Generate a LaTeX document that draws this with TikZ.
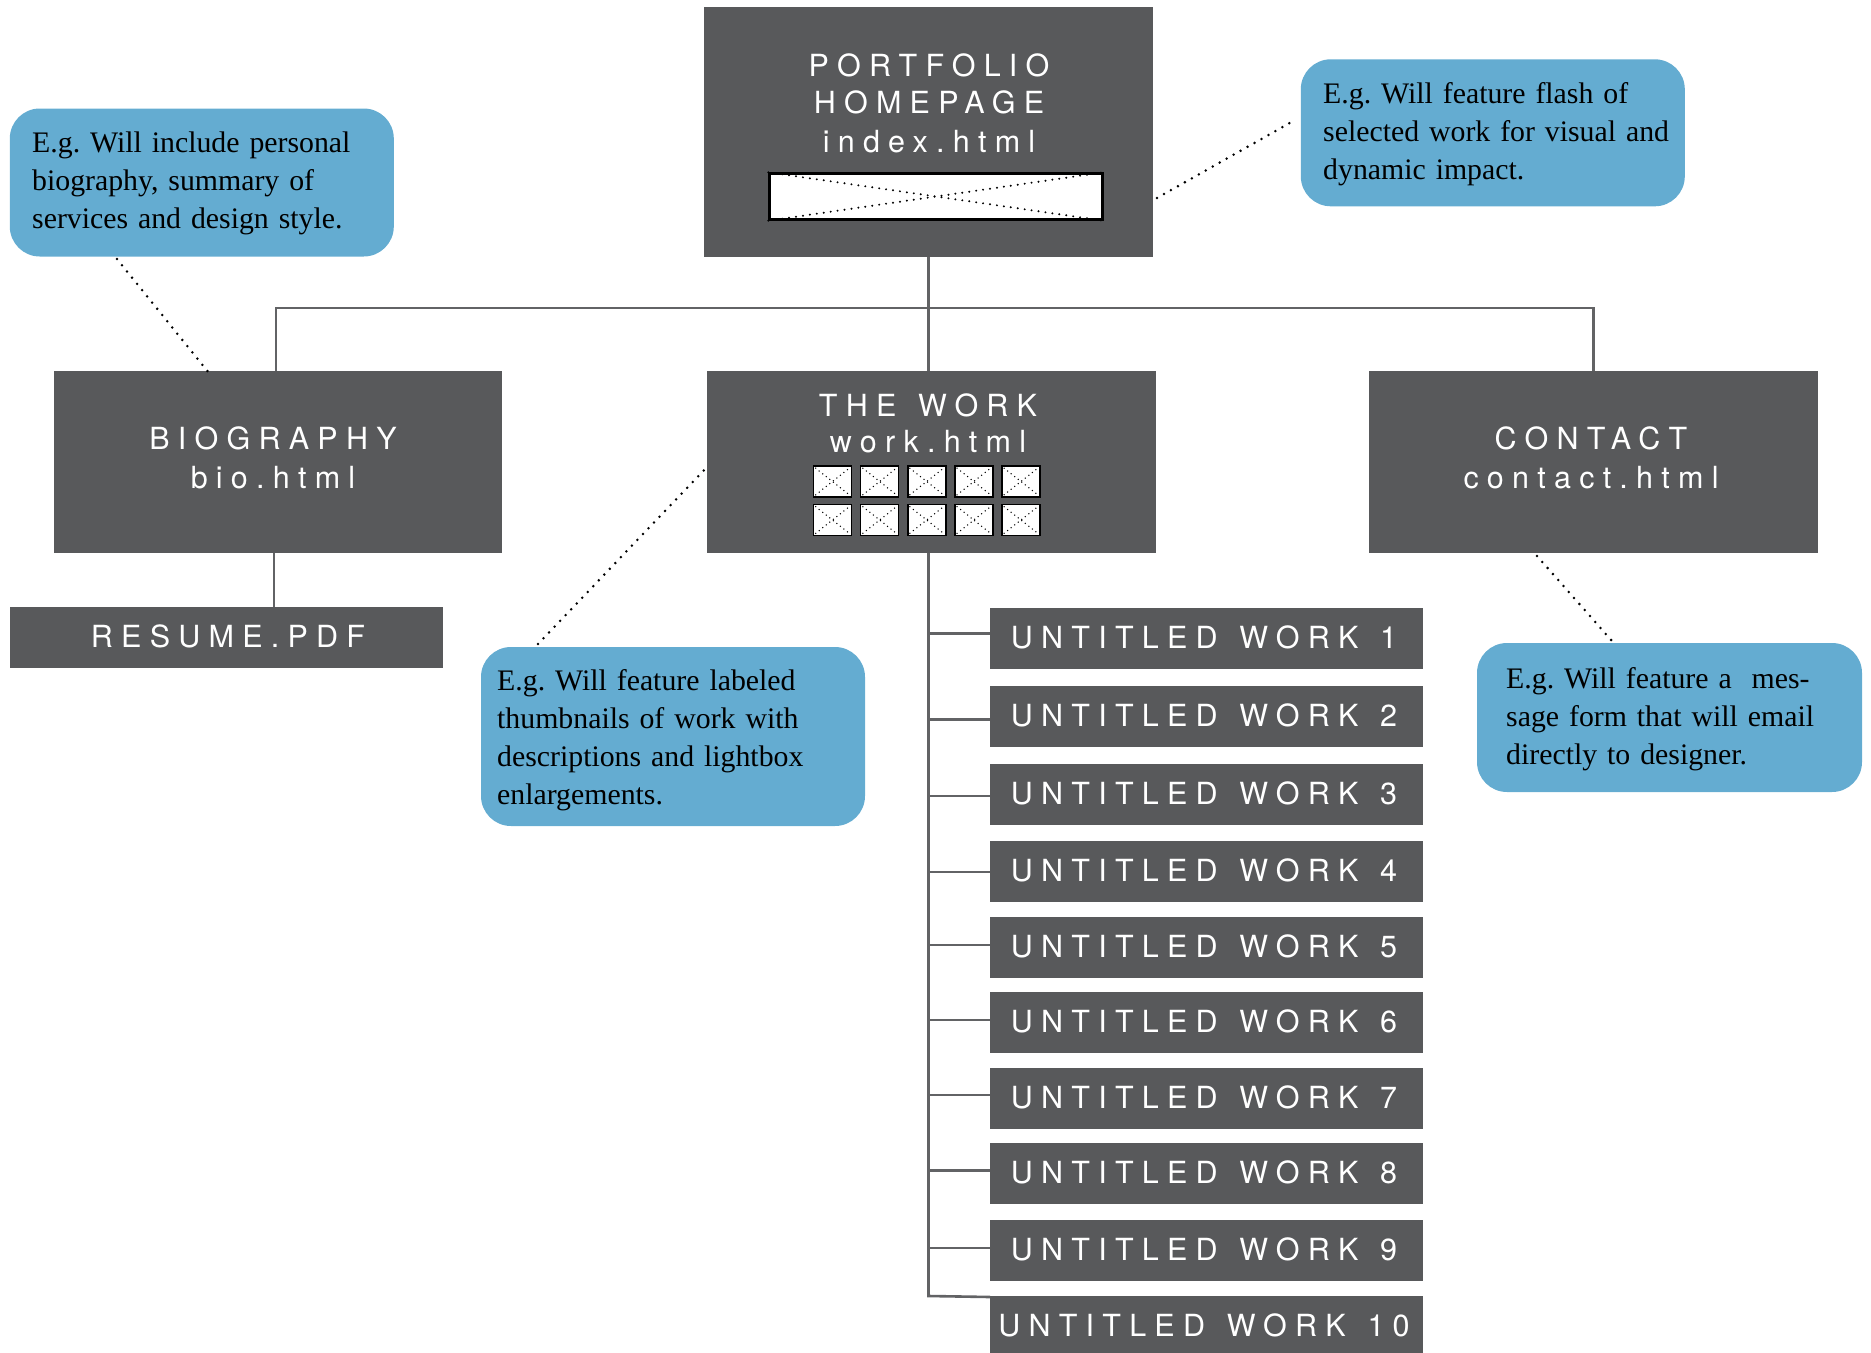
\documentclass[tikz,border=0pt]{standalone}
\usepackage{fontspec}
\setmainfont{Liberation Serif}
\newfontfamily\hvfont[LetterSpace=27,WordSpace=1.3]{TeX Gyre Heros}
\definecolor{boxgray}{HTML}{58595B}
\definecolor{linegray}{HTML}{626365}
\definecolor{noteblue}{HTML}{64ACD1}
\frenchspacing
\begin{document}
\begin{tikzpicture}[x=1pt,y=-1pt,
  pbox/.style={fill=boxgray, draw=none, inner sep=0pt, outer sep=0pt},
  note/.style={fill=noteblue, draw=none, rounded corners=30pt, inner sep=0pt, outer sep=0pt},
  hdr/.style={text=white, font=\hvfont\fontsize{30.5}{36}\selectfont, anchor=base, inner sep=0pt},
  ntext/.style={font=\fontsize{29.8}{38}\selectfont\frenchspacing, anchor=base west, inner sep=0pt, align=left, text width=380pt},
  conn/.style={draw=linegray, line width=2.6pt},
  leader/.style={draw=black, line width=2.8pt, line cap=round, dash pattern=on 0pt off 8pt},
  xdots/.style={draw=black, line width=2.2pt, line cap=round, dash pattern=on 0pt off 7pt},
  tdots/.style={draw=black, line width=1.5pt, line cap=round, dash pattern=on 0pt off 4.5pt},
  thumb/.style={fill=white, draw=black, line width=1.6pt, minimum width=38pt, minimum height=31pt, inner sep=0pt},
]
\useasboundingbox (0,0) rectangle (1871,1352);

% main boxes
\node[pbox, minimum width=449pt, minimum height=250pt] (home) at (928.5,132) {};
\node[pbox, minimum width=448pt, minimum height=182pt] (bio) at (278,462) {};
\node[pbox, minimum width=449pt, minimum height=182pt] (work) at (931.5,462) {};
\node[pbox, minimum width=449pt, minimum height=182pt] (contact) at (1593.5,462) {};
\node[pbox, minimum width=433pt, minimum height=61pt] (resume) at (226.5,637.5) {};

% header texts
\node[hdr] (t1) at (929,76) {PORTFOLIO};
\node[hdr] (t2) at (929,113) {HOMEPAGE};
\node[hdr] (t3) at (929,152) {index.html};
\node[hdr] (t4) at (928,416) {THE WORK};
\node[hdr] (t5) at (928,452) {work.html};
\node[hdr] (t6) at (273,449) {BIOGRAPHY};
\node[hdr] (t7) at (273,488) {bio.html};
\node[hdr] (t8) at (1591,449) {CONTACT};
\node[hdr] (t9) at (1591,488) {contact.html};
\node[hdr] (t10) at (228,647) {RESUME.PDF};

% hero placeholder
\node[fill=white, draw=black, line width=2.4pt, minimum width=333pt, minimum height=46pt, inner sep=0pt] (hero) at (936,196.5) {};
\draw[xdots] (hero.north west) -- (hero.south east);
\draw[xdots] (hero.south west) -- (hero.north east);

% thumbnails
\foreach \c in {0,...,4}{
  \foreach \r in {0,1}{
    \node[thumb] (th\c\r) at (832.5+\c*47.1, 481.5+\r*38.5) {};
    \draw[tdots] ([xshift=3pt,yshift=-3pt]th\c\r.north west) -- ([xshift=-3pt,yshift=3pt]th\c\r.south east);
    \draw[tdots] ([xshift=3pt,yshift=3pt]th\c\r.south west) -- ([xshift=-3pt,yshift=-3pt]th\c\r.north east);
  }
}

% work items
\foreach \i/\t in {1/608,2/686,3/764,4/841,5/917,6/992,7/1068,8/1143,9/1220,10/1296}{
  \node[pbox, minimum width=433pt, minimum height=61pt] (item\i) at (1206.5,\t+30.5) {};
  \node[hdr] (itext\i) at (1204,\t+40) {UNTITLED WORK \i};
}

% connectors
\coordinate (hub) at (928.5,308);
\draw[conn] (home.south) -- (hub);
\draw[conn] ([xshift=-2pt]bio.north) |- (hub) -| (contact.north);
\draw[conn] (hub) -- (hub |- work.north);
\draw[conn] ([xshift=-4pt]bio.south) -- ([xshift=-4pt]bio.south |- resume.north);
\draw[conn] (hub |- work.south) -- (hub |- item10.north) -- ([yshift=-1pt]item10.north west);
\foreach \i/\y in {1/633.6,2/719.5,3/796,4/872,5/945,6/1020,7/1095,8/1170.5,9/1248}{
  \draw[conn] (hub |- 0,\y) -- (item\i.west |- 0,\y);
}

% notes
\node[note, minimum width=384pt, minimum height=148pt] (lnote) at (201.8,182.5) {};
\node[note, minimum width=384pt, minimum height=147pt] (rnote) at (1492.8,132.8) {};
\node[note, minimum width=384pt, minimum height=179pt] (wnote) at (673,736.5) {};
\node[note, minimum width=385pt, minimum height=149pt] (cnote) at (1669.5,717.5) {};

\node[ntext] (lnotetxt) at (32,152) {E.g. Will include personal\\biography, summary of\\services and design style.};
\node[ntext] (rnotetxt) at (1323,103) {E.g. Will feature flash of\\selected work for visual and\\dynamic impact.};
\node[ntext] (wnotetxt) at (497,690) {E.g. Will feature labeled\\thumbnails of work with\\descriptions and lightbox\\enlargements.};
\node[ntext] (cnotetxt) at (1506,688) {E.g. Will feature a\ \ mes-\\sage form that will email\\directly to designer.};

% dotted leaders
\coordinate (la) at (117,259); \coordinate (lb) at (209,373);
\coordinate (ra) at (1157,198); \coordinate (rb) at (1295,120);
\coordinate (wa) at (538,644); \coordinate (wb) at (707,467);
\coordinate (ca) at (1537,556); \coordinate (cb) at (1612,641);
\draw[leader] (la) -- (lb);
\draw[leader] (ra) -- (rb);
\draw[leader] (wa) -- (wb);
\draw[leader] (ca) -- (cb);
\end{tikzpicture}
\end{document}
